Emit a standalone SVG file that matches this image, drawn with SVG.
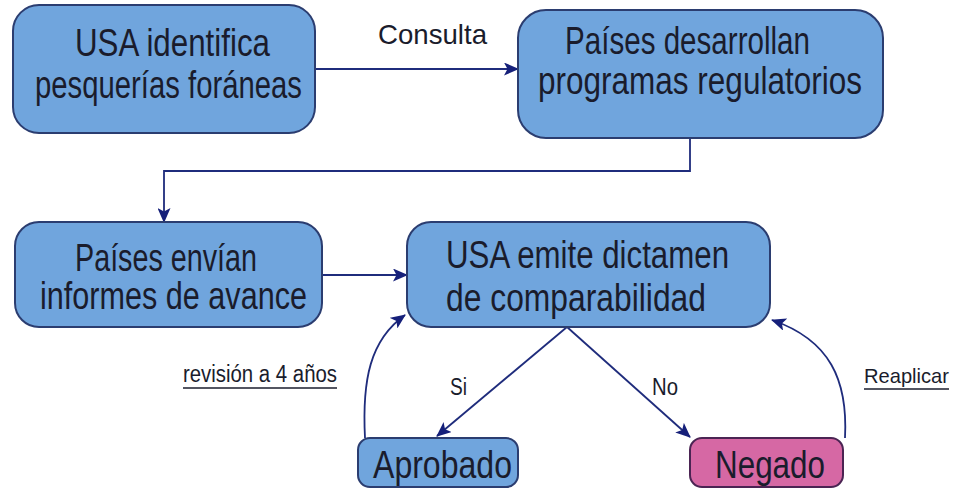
<svg xmlns="http://www.w3.org/2000/svg" width="955" height="489" viewBox="0 0 955 489">
  <defs>
    <marker id="arr" markerWidth="15" markerHeight="13" refX="14" refY="6.5" orient="auto" markerUnits="userSpaceOnUse">
      <path d="M0,0 L15,6.5 L0,13 L3.5,6.5 Z" fill="#16207a"/>
    </marker>
    <style>
      .box { fill: #70a5dd; stroke: #2b3d70; stroke-width: 2; }
      .neg { fill: #d668a4; stroke: #4b2453; stroke-width: 2; }
      .t { font-family: "Liberation Sans", Arial, sans-serif; fill: #1a1c2c; }
      .big { font-size: 38px; }
      .mid { font-size: 28px; }
      .sm { font-size: 23px; }
      .con { fill: none; stroke: #1f2c7c; stroke-width: 1.8; }
      .ul { stroke: #1a1c2c; stroke-width: 1.5; }
    </style>
  </defs>
  <rect width="955" height="489" fill="#ffffff"/>

  <g id="connectors">
    <line class="con" x1="315" y1="69" x2="518" y2="69" marker-end="url(#arr)"/>
    <polyline class="con" points="690,138 690,171 164,171 164,222" marker-end="url(#arr)"/>
    <line class="con" x1="322" y1="275" x2="407" y2="275" marker-end="url(#arr)"/>
    <line class="con" x1="567" y1="327" x2="437" y2="436" marker-end="url(#arr)"/>
    <line class="con" x1="567" y1="327" x2="690" y2="437" marker-end="url(#arr)"/>
    <path class="con" d="M365,438 C362,380 370,340 405,315" marker-end="url(#arr)"/>
    <path class="con" d="M845,438 C848,380 830,340 772,320" marker-end="url(#arr)"/>
    <text class="t mid" x="378" y="44" textLength="109" lengthAdjust="spacingAndGlyphs">Consulta</text>
    <text class="t sm" x="183" y="382" textLength="154" lengthAdjust="spacingAndGlyphs">revisión a 4 años</text>
    <line class="ul" x1="183" y1="388" x2="337" y2="388"/>
    <text class="t sm" x="450" y="395" textLength="17" lengthAdjust="spacingAndGlyphs">Si</text>
    <text class="t sm" x="652" y="395" textLength="26" lengthAdjust="spacingAndGlyphs">No</text>
    <text class="t" font-size="21" x="864" y="383" textLength="85" lengthAdjust="spacingAndGlyphs">Reaplicar</text>
    <line class="ul" x1="864" y1="389" x2="949" y2="389"/>
  </g>

  <g id="node-usa-identifica">
    <rect class="box" x="13" y="5" width="302" height="128" rx="26"/>
    <text class="t big" x="75" y="56" textLength="195" lengthAdjust="spacingAndGlyphs">USA identifica</text>
    <text class="t big" x="35" y="98" textLength="267" lengthAdjust="spacingAndGlyphs">pesquerías foráneas</text>
  </g>

  <g id="node-paises-desarrollan">
    <rect class="box" x="518" y="10" width="365" height="128" rx="28"/>
    <text class="t big" x="565" y="54" textLength="245" lengthAdjust="spacingAndGlyphs">Países desarrollan</text>
    <text class="t big" x="538" y="94" textLength="324" lengthAdjust="spacingAndGlyphs">programas regulatorios</text>
  </g>

  <g id="node-paises-envian">
    <rect class="box" x="15" y="222" width="307" height="105" rx="24"/>
    <text class="t big" x="75" y="271" textLength="182" lengthAdjust="spacingAndGlyphs">Países envían</text>
    <text class="t big" x="40" y="309" textLength="267" lengthAdjust="spacingAndGlyphs">informes de avance</text>
  </g>

  <g id="node-usa-emite">
    <rect class="box" x="407" y="222" width="363" height="105" rx="24"/>
    <text class="t big" x="446" y="268" textLength="283" lengthAdjust="spacingAndGlyphs">USA emite dictamen</text>
    <text class="t big" x="446" y="311" textLength="260" lengthAdjust="spacingAndGlyphs">de comparabilidad</text>
  </g>

  <g id="node-aprobado">
    <rect class="box" x="358" y="438" width="160" height="49" rx="12"/>
    <text class="t big" x="373" y="478" textLength="139" lengthAdjust="spacingAndGlyphs">Aprobado</text>
  </g>

  <g id="node-negado">
    <rect class="neg" x="690" y="438" width="153" height="49" rx="12"/>
    <text class="t big" x="715" y="478" textLength="110" lengthAdjust="spacingAndGlyphs" fill="#3a0d24">Negado</text>
  </g>
</svg>
